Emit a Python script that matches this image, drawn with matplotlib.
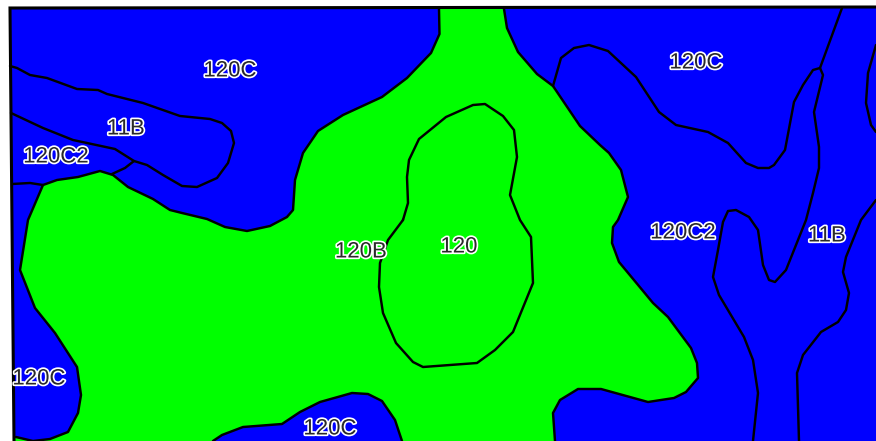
import matplotlib
matplotlib.use("Agg")
import matplotlib.pyplot as plt
import matplotlib.patheffects as pe
from matplotlib.patches import Polygon

BLUE = "#0000ff"
GREEN = "#00ff00"

map_area = [(10, 8), (876, 7), (876, 441), (14, 441)]

# Boundary of the green unit, split where it leaves the bottom edge of the map
green_west = [(439, 9), (439.5, 34), (431, 53), (407, 78), (382, 97), (343, 115), (318, 131), (303, 153),
              (295, 180), (293, 210), (287, 217), (270, 226), (247, 231), (225, 227), (207, 219), (182, 213),
              (170, 210), (153, 199), (128, 187), (113, 175), (100, 171), (78, 177), (57, 180), (43, 185),
              (28, 220), (20, 270), (35, 308), (55, 333), (77, 367), (81, 395), (78, 413), (68, 432),
              (50, 439), (33, 441), (16, 437)]
green_mid = [(213, 441), (222, 435), (243, 427), (282, 424), (300, 412), (320, 402), (352, 393), (368, 394),
             (382, 401), (395, 420), (402, 441)]
green_east = [(555, 441), (553, 413), (560, 400), (578, 389), (601, 389), (648, 402), (674, 398), (686, 392),
              (698, 378), (697, 363), (691, 348), (668, 317), (653, 303), (619, 262), (612, 243), (613, 227),
              (618, 220), (628, 197), (621, 170), (609, 153), (600, 145), (580, 126), (553, 86), (537, 74),
              (518, 52), (507, 28), (504, 9)]

inner_120 = [(403, 220), (408, 203), (407, 177), (409, 160), (419, 139), (446, 117), (473, 105), (485, 104),
             (503, 116), (514, 130), (517, 157), (510, 195), (520, 220), (531, 237), (533, 283), (513, 332),
             (495, 350), (477, 363), (423, 367), (413, 362), (396, 343), (383, 313), (379, 287), (380, 263),
             (388, 240), (403, 220)]

tongue_11b = [(10, 66), (17, 68), (30, 75), (47, 78), (77, 89), (98, 90), (107, 94), (143, 103), (180, 116),
              (210, 119), (222, 123), (231, 131), (234, 143), (228, 163), (217, 178), (197, 187), (182, 186),
              (163, 175), (147, 165), (134, 161), (115, 149), (73, 140), (43, 128), (11, 113)]
split_a = [(134, 161), (125, 168), (112, 174)]
split_b = [(12, 184), (30, 183), (43, 185)]
ridge = [(553, 86), (561, 58), (574, 48), (589, 45), (608, 51), (636, 77), (659, 112), (676, 125), (708, 132),
         (728, 143), (746, 163), (758, 168), (769, 168), (774, 165), (785, 150), (794, 102), (803, 85),
         (813, 70), (820, 68), (823, 75), (814, 112), (819, 147), (819, 168), (813, 193), (806, 220),
         (786, 270), (775, 282), (769, 280), (763, 265), (758, 230), (749, 217), (736, 210), (728, 211),
         (723, 222), (718, 250), (713, 277), (719, 295), (744, 337), (753, 360), (758, 393), (753, 441)]
spur_top = [(820, 68), (842, 8)]
east_top = [(876, 45), (868, 73), (866, 103), (871, 125), (876, 132)]
east_low = [(876, 200), (861, 220), (846, 257), (843, 272), (849, 293), (846, 310), (838, 322), (821, 332),
            (803, 355), (797, 373), (799, 441)]

frame = [(14, 441), (10, 8), (876, 7)]

label_names = ["120C", "11B", "120C2", "120C", "120C2", "11B", "120B", "120", "120C", "120C"]
label_x = [230, 126, 56, 696, 683, 827, 361, 459, 39, 330]
label_y = [71, 129, 157, 63, 233, 236, 252, 247, 379, 429]

fig = plt.figure(figsize=(8.76, 4.41), dpi=100)
ax = fig.add_axes([0, 0, 1, 1])
ax.set_xlim(0, 876)
ax.set_ylim(441, 0)
ax.axis("off")

ax.add_patch(Polygon(map_area, closed=True, facecolor=BLUE, edgecolor="none"))
ax.add_patch(Polygon(green_west + [(14, 441)] + green_mid + green_east, closed=True,
                     facecolor=GREEN, edgecolor="none"))

for line in [green_west, green_mid, green_east, inner_120, tongue_11b, split_a, split_b,
             ridge, spur_top, east_top, east_low]:
    ax.plot([p[0] for p in line], [p[1] for p in line], color="black", lw=1.75,
            solid_joinstyle="round", solid_capstyle="round")

ax.plot([p[0] for p in frame], [p[1] for p in frame], color="black", lw=2.2, solid_joinstyle="miter")

for name, x, y in zip(label_names, label_x, label_y):
    ax.text(x, y, name, ha="center", va="center", fontsize=16, family="Liberation Sans", color="#2a2a2a",
            path_effects=[pe.withStroke(linewidth=2.4, foreground="white")])

fig.savefig("out.png", dpi=100)
